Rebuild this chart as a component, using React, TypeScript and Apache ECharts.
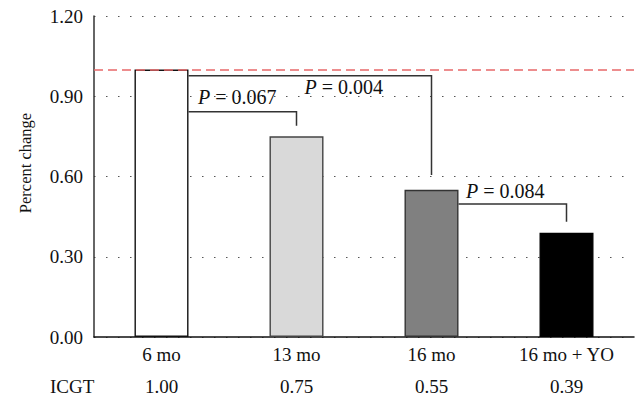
import React, { useEffect, useRef } from "react";
import * as echarts from "echarts";

// ---- data ----
const categories = ["6 mo", "13 mo", "16 mo", "16 mo + YO"];
const percentChange = [1.0, 0.75, 0.55, 0.39];
const icgtValues = [1.0, 0.75, 0.55, 0.39];
const referenceLevel = 1.0;
const yMin = 0;
const yMax = 1.2;
const yInterval = 0.3;

// significance brackets
const bracketFrom = [0, 0, 2];
const bracketTo = [1, 2, 3];
const bracketLevel = [0.842, 0.977, 0.497];
const bracketEnd = [0.79, 0.606, 0.431];
const pValues = ["0.067", "0.004", "0.084"];

// ---- styles / layout ----
const FONT = "'Liberation Serif', 'Times New Roman', serif";
const barFill = ["#ffffff", "#d9d9d9", "#808080", "#000000"];
const barBorder = ["#111111", "#444444", "#333333", "#000000"];
const barWidthFrac = 0.4;
// label anchor: category index + fraction of category width, value-level y
const labelLayout = [
  { cat: 0, frac: 0.27, y: 0.897 },
  { cat: 1, frac: 0.06, y: 0.933 },
  { cat: 2, frac: 0.255, y: 0.544 },
];

export default function App() {
  const ref = useRef<HTMLDivElement>(null);
  useEffect(() => {
    if (!ref.current) return;
    const chart = echarts.init(ref.current, undefined, { renderer: "svg" });
    const bracketData = bracketFrom.map((f, i) => [f, bracketTo[i], bracketLevel[i], bracketEnd[i]]);
    chart.setOption({
      animation: false,
      backgroundColor: "#ffffff",
      textStyle: { fontFamily: FONT },
      grid: { left: 94, right: 1, top: 16, bottom: 63, containLabel: false },
      xAxis: [
        {
          type: "category",
          data: categories,
          axisLine: { show: true, lineStyle: { color: "#111", width: 1.5 } },
          axisTick: { show: false },
          splitLine: { show: false },
          axisLabel: { fontSize: 19, fontFamily: FONT, color: "#111", margin: 8 },
        },
        {
          type: "category",
          position: "bottom",
          offset: 31.5,
          data: icgtValues.map((v) => v.toFixed(2)),
          axisLine: { show: false },
          axisTick: { show: false },
          splitLine: { show: false },
          axisLabel: { fontSize: 19, fontFamily: FONT, color: "#111", margin: 8 },
        },
      ],
      yAxis: {
        type: "value",
        min: yMin,
        max: yMax,
        interval: yInterval,
        axisLine: { show: true, lineStyle: { color: "#333", width: 1.5 } },
        axisTick: { show: false },
        axisLabel: {
          formatter: (v: number) => v.toFixed(2),
          fontSize: 19,
          fontFamily: FONT,
          color: "#111",
          margin: 11,
        },
        splitLine: { show: true, lineStyle: { type: [1.5, 10.5], color: "#555", width: 1.2 } },
      },
      graphic: [
        {
          type: "text",
          x: 25,
          y: 163,
          rotation: Math.PI / 2,
          style: {
            text: "Percent change",
            fontSize: 16.5,
            fontFamily: FONT,
            fill: "#111",
            align: "center",
            verticalAlign: "middle",
          },
        },
        {
          type: "text",
          x: 50,
          y: 386,
          style: {
            text: "ICGT",
            fontSize: 19,
            fontFamily: FONT,
            fill: "#111",
            align: "left",
            verticalAlign: "middle",
          },
        },
      ],
      series: [
        {
          type: "bar",
          xAxisIndex: 0,
          barWidth: `${barWidthFrac * 100}%`,
          data: percentChange.map((v, i) => ({
            value: v,
            itemStyle: { color: barFill[i], borderColor: barBorder[i], borderWidth: 1.4 },
          })),
          markLine: {
            silent: true,
            symbol: ["none", "none"],
            label: { show: false },
            lineStyle: { color: "#e8686a", type: [9, 5], width: 1.5 },
            data: [{ yAxis: referenceLevel }],
          },
          z: 2,
        },
        {
          type: "custom",
          xAxisIndex: 0,
          dimensions: ["from", "to", "level", "end"],
          encode: { x: [0, 1], y: [2, 3] },
          data: bracketData,
          clip: false,
          z: 5,
          renderItem: (params: any, api: any) => {
            const i = params.dataIndex;
            const from = api.value(0);
            const to = api.value(1);
            const level = api.value(2);
            const end = api.value(3);
            const catW = api.size([1, 0])[0];
            const half = (catW * barWidthFrac) / 2;
            const p1 = api.coord([from, level]);
            const p2 = api.coord([to, level]);
            const p3 = api.coord([to, end]);
            const lay = labelLayout[i];
            const lp = api.coord([lay.cat, lay.y]);
            return {
              type: "group",
              children: [
                {
                  type: "polyline",
                  shape: { points: [[p1[0] + half, p1[1]], [p2[0], p2[1]], [p3[0], p3[1]]] },
                  style: { stroke: "#333", lineWidth: 1.5, fill: null },
                },
                {
                  type: "text",
                  x: lp[0] + lay.frac * catW,
                  y: lp[1],
                  style: {
                    text: "{i|P} {r|= " + pValues[i] + "}",
                    fill: "#111",
                    fontSize: 20,
                    fontFamily: FONT,
                    align: "left",
                    verticalAlign: "middle",
                    rich: {
                      i: { fontStyle: "italic", fontSize: 20, fontFamily: FONT, fill: "#111" },
                      r: { fontSize: 20, fontFamily: FONT, fill: "#111" },
                    },
                  },
                },
              ],
            };
          },
        },
      ],
    });
    return () => chart.dispose();
  }, []);
  return (
    <div
      ref={ref}
      style={{ width: 635, height: 400, position: "fixed", left: 0, top: 0, background: "#fff" }}
    />
  );
}
